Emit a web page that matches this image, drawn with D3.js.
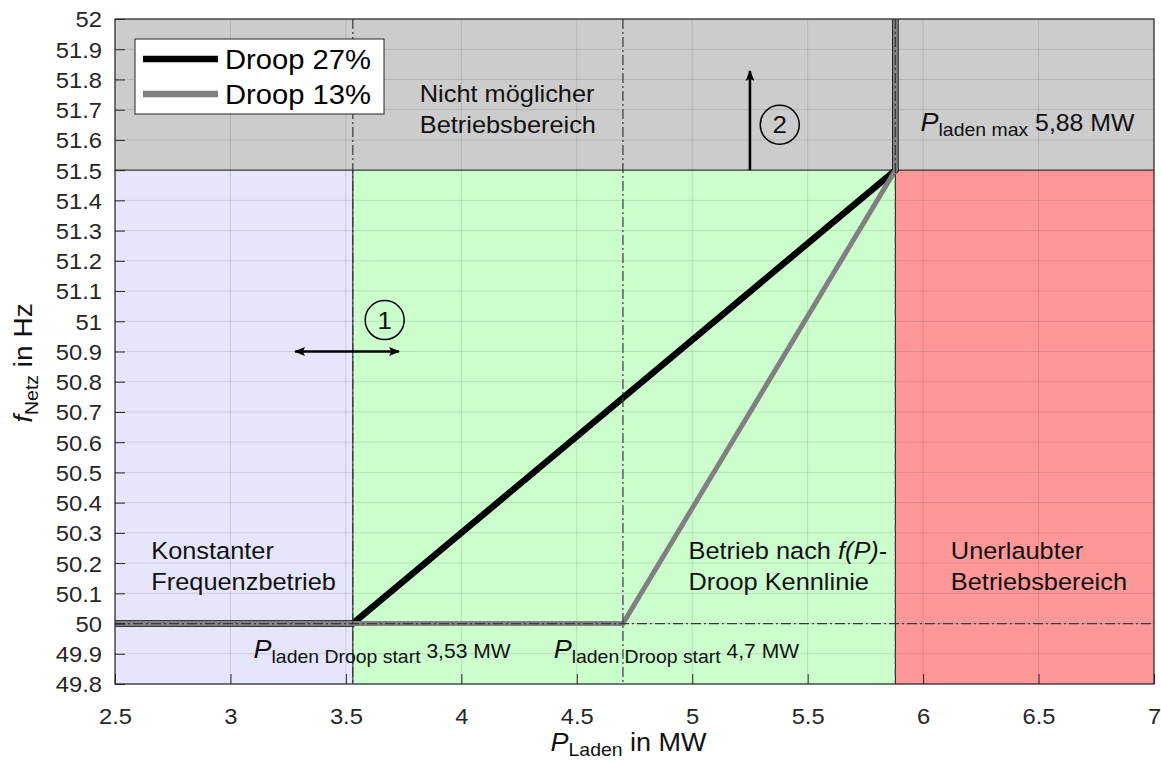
<!DOCTYPE html>
<html>
<head>
<meta charset="utf-8">
<script src="https://cdn.jsdelivr.net/npm/d3@7"></script>
<style>
  html, body { margin: 0; padding: 0; background: #fff; }
  svg { display: block; }
  text { white-space: pre; }
</style>
</head>
<body>
<svg id="chart" width="1161" height="762"></svg>
<script>
// ---- data -------------------------------------------------------------
const xTickLabels = ["2.5", "3", "3.5", "4", "4.5", "5", "5.5", "6", "6.5", "7"];
const yTickLabels = ["49.8", "49.9", "50", "50.1", "50.2", "50.3", "50.4", "50.5", "50.6",
                     "50.7", "50.8", "50.9", "51", "51.1", "51.2", "51.3", "51.4", "51.5",
                     "51.6", "51.7", "51.8", "51.9", "52"];

// operating regions (P range in MW, f range in Hz)
const regionKeys = ["blocked", "constant", "droop", "forbidden"];
const regionP0 = [2.5, 2.5, 3.53, 5.88];
const regionP1 = [7, 3.53, 5.88, 7];
const regionF0 = [51.5, 49.8, 49.8, 49.8];
const regionF1 = [52, 51.5, 51.5, 51.5];

// f(P) droop characteristics
const seriesNames = ["Droop 27%", "Droop 13%"];
const droop27P = [2.5, 3.53, 5.88, 5.88];
const droop27F = [50, 50, 51.5, 52];
const droop13P = [2.5, 4.7, 5.88, 5.88];
const droop13F = [50, 50, 51.5, 52];

// dash-dot reference markers
const refP = [3.53, 4.7, 5.88];
const refF = [50];
const limitF = 51.5;

// ---- layout -----------------------------------------------------------
const FONT = "'Liberation Sans', Arial, Helvetica, sans-serif";
const SX = 1.08;            // horizontal glyph stretch
const M = { l: 115, r: 1154, t: 19, b: 684 };

const regionFill = { blocked: "#cccccc", constant: "#e5e5fb", droop: "#ccfdcc", forbidden: "#fe9898" };

const svg = d3.select("#chart");
svg.append("rect").attr("width", 1161).attr("height", 762).attr("fill", "#fff");

const xTicks = xTickLabels.map(Number);
const yTicks = yTickLabels.map(Number);
const x = d3.scaleLinear().domain([2.5, 7]).range([M.l, M.r]);
const y = d3.scaleLinear().domain([49.8, 52]).range([M.b, M.t]);

// helper: text built from styled parts (italic symbol, subscript, plain)
function richText(g, px, py, parts, opts = {}) {
  const t = g.append("text")
    .attr("transform", `translate(${px},${py})${opts.rotate ? " rotate(" + opts.rotate + ")" : ""} scale(${SX},1)`)
    .attr("text-anchor", opts.anchor || "start")
    .attr("font-family", FONT)
    .attr("fill", opts.fill || "#111");
  parts.forEach(p => {
    t.append("tspan")
      .attr("font-size", p.size)
      .attr("font-style", p.italic ? "italic" : null)
      .attr("dy", p.dy || 0)
      .text(p.t);
  });
  return t;
}

// ---- regions ----------------------------------------------------------
const regions = regionKeys.map((k, i) => ({ k, p0: regionP0[i], p1: regionP1[i], f0: regionF0[i], f1: regionF1[i] }));
svg.append("g").selectAll("rect").data(regions).join("rect")
  .attr("x", d => x(d.p0)).attr("y", d => y(d.f1))
  .attr("width", d => x(d.p1) - x(d.p0)).attr("height", d => y(d.f0) - y(d.f1))
  .attr("fill", d => regionFill[d.k]);

// ---- grid -------------------------------------------------------------
const grid = svg.append("g").attr("stroke", "#000").attr("stroke-opacity", 0.11).attr("stroke-width", 1);
grid.selectAll("line.gx").data(xTicks).join("line").attr("class", "gx")
  .attr("x1", d => x(d)).attr("x2", d => x(d)).attr("y1", M.t).attr("y2", M.b);
grid.selectAll("line.gy").data(yTicks).join("line").attr("class", "gy")
  .attr("y1", d => y(d)).attr("y2", d => y(d)).attr("x1", M.l).attr("x2", M.r);

// region borders
const borders = svg.append("g").attr("stroke", "#1a1a1a").attr("stroke-width", 1);
borders.append("line").attr("x1", M.l).attr("x2", M.r).attr("y1", y(limitF)).attr("y2", y(limitF));
regions.filter(d => d.k !== "blocked" && d.p0 > 2.5).forEach(d => {
  borders.append("line").attr("x1", x(d.p0)).attr("x2", x(d.p0)).attr("y1", y(d.f0)).attr("y2", y(d.f1));
});

// ---- characteristic curves --------------------------------------------
const line = d3.line().x(d => x(d[0])).y(d => y(d[1]));
const curves = [
  { pts: d3.zip(droop27P, droop27F), color: "#000000", width: 6.5 },
  { pts: d3.zip(droop13P, droop13F), color: "#808080", width: 5 }
];
svg.append("g").selectAll("path").data(curves).join("path")
  .attr("d", d => line(d.pts)).attr("fill", "none")
  .attr("stroke", d => d.color).attr("stroke-width", d => d.width)
  .attr("stroke-linejoin", "miter").attr("stroke-linecap", "butt");

// ---- dash-dot reference lines -----------------------------------------
const refs = svg.append("g").attr("stroke", "#3a3a3a").attr("stroke-width", 1.2)
  .attr("stroke-dasharray", "10,3,2,3").attr("fill", "none");
refs.selectAll("line.rp").data(refP).join("line").attr("class", "rp")
  .attr("x1", d => x(d)).attr("x2", d => x(d)).attr("y1", M.t).attr("y2", M.b);
refs.selectAll("line.rf").data(refF).join("line").attr("class", "rf")
  .attr("y1", d => y(d)).attr("y2", d => y(d)).attr("x1", M.l).attr("x2", M.r);

// ---- axes -------------------------------------------------------------
const axisColor = "#262626";
const xAxis = svg.append("g").attr("transform", `translate(0,${M.b})`)
  .call(d3.axisBottom(x).tickValues(xTicks).tickFormat((d, i) => xTickLabels[i]).tickSizeInner(-10).tickSizeOuter(0).tickPadding(24));
const yAxis = svg.append("g").attr("transform", `translate(${M.l},0)`)
  .call(d3.axisLeft(y).tickValues(yTicks).tickFormat((d, i) => yTickLabels[i]).tickSizeInner(-10).tickSizeOuter(0).tickPadding(13));
[xAxis, yAxis].forEach(a => {
  a.select(".domain").remove();
  a.selectAll(".tick line").attr("stroke", axisColor).attr("stroke-width", 1);
  a.selectAll(".tick text").attr("fill", axisColor).attr("font-family", FONT).attr("font-size", 22);
});
xAxis.selectAll(".tick text").attr("transform", `scale(${SX},1)`).attr("x", 0);
yAxis.selectAll(".tick text").each(function () {
  const t = d3.select(this);
  const xx = +t.attr("x");
  t.attr("x", xx / SX).attr("transform", `scale(${SX},1)`).attr("dy", "0.36em");
});
svg.append("rect").attr("x", M.l).attr("y", M.t).attr("width", M.r - M.l).attr("height", M.b - M.t)
  .attr("fill", "none").attr("stroke", axisColor).attr("stroke-width", 1.2);

// axis titles
richText(svg, (M.l + M.r) / 2 - 6, 751, [
  { t: "P", size: 25, italic: true },
  { t: "Laden", size: 18, dy: 5 },
  { t: " in MW", size: 25, dy: -5 }
], { anchor: "middle", fill: "#111" });
richText(svg, 32, 363, [
  { t: "f", size: 26, italic: true },
  { t: "Netz", size: 18, dy: 6 },
  { t: " in Hz", size: 26, dy: -6 }
], { anchor: "middle", rotate: -90, fill: "#111" });

// ---- region annotations -----------------------------------------------
const ann = svg.append("g");
const AS = 23.5, LH = 31;
function twoLines(p, f, a, b) {
  richText(ann, x(p), y(f), [{ t: a, size: AS }]);
  richText(ann, x(p), y(f) + LH, [{ t: b, size: AS }]);
}
twoLines(3.82, 51.726, "Nicht möglicher", "Betriebsbereich");
twoLines(2.657, 50.212, "Konstanter", "Frequenzbetrieb");
twoLines(6.12, 50.212, "Unerlaubter", "Betriebsbereich");
richText(ann, x(4.984), y(50.212), [
  { t: "Betrieb nach ", size: AS },
  { t: "f(P)", size: AS, italic: true },
  { t: "-", size: AS }
]);
richText(ann, x(4.984), y(50.212) + LH, [{ t: "Droop Kennlinie", size: AS }]);

// power labels
richText(ann, x(5.885) + 24, y(51.629), [
  { t: "P", size: 25, italic: true },
  { t: "laden max", size: 18, dy: 5 },
  { t: " 5,88 MW", size: 23, dy: -5 }
]);
richText(ann, x(3.10), y(49.887), [
  { t: "P", size: 25, italic: true },
  { t: "laden Droop start", size: 18, dy: 5 },
  { t: " 3,53 MW", size: 19.5, dy: -5 }
]);
richText(ann, x(4.40), y(49.887), [
  { t: "P", size: 25, italic: true },
  { t: "laden Droop start", size: 18, dy: 5 },
  { t: " 4,7 MW", size: 19.5, dy: -5 }
]);

// ---- arrows and circled markers ---------------------------------------
const defs = svg.append("defs");
defs.append("marker").attr("id", "head").attr("viewBox", "0 0 10 8")
  .attr("refX", 9).attr("refY", 4).attr("markerWidth", 11).attr("markerHeight", 9)
  .attr("markerUnits", "userSpaceOnUse").attr("orient", "auto-start-reverse")
  .append("path").attr("d", "M0,0 L10,4 L0,8 L2,4 Z").attr("fill", "#000");

svg.append("line").attr("x1", x(5.25)).attr("x2", x(5.25)).attr("y1", y(51.5)).attr("y2", y(51.828))
  .attr("stroke", "#000").attr("stroke-width", 2.6).attr("marker-end", "url(#head)");
svg.append("line").attr("x1", x(3.28)).attr("x2", x(3.73)).attr("y1", y(50.9)).attr("y2", y(50.9))
  .attr("stroke", "#000").attr("stroke-width", 2.6)
  .attr("marker-start", "url(#head)").attr("marker-end", "url(#head)");

const markers = [{ p: 3.668, f: 51.004, n: "1" }, { p: 5.379, f: 51.65, n: "2" }];
markers.forEach(m => {
  svg.append("circle").attr("cx", x(m.p)).attr("cy", y(m.f)).attr("r", 19.5)
    .attr("fill", "none").attr("stroke", "#000").attr("stroke-width", 1.5);
  richText(svg, x(m.p), y(m.f) + 8.5, [{ t: m.n, size: 24 }], { anchor: "middle" });
});

// ---- legend -----------------------------------------------------------
const lg = svg.append("g");
lg.append("rect").attr("x", 135).attr("y", 39).attr("width", 249).attr("height", 75)
  .attr("fill", "#fff").attr("stroke", axisColor).attr("stroke-width", 1);
curves.forEach((c, i) => {
  const ly = 59 + i * 35;
  lg.append("line").attr("x1", 143).attr("x2", 218).attr("y1", ly).attr("y2", ly)
    .attr("stroke", c.color).attr("stroke-width", 6.5);
  richText(lg, 225, ly + 9.5, [{ t: seriesNames[i], size: 27 }], { fill: "#000" });
});
</script>
</body>
</html>
